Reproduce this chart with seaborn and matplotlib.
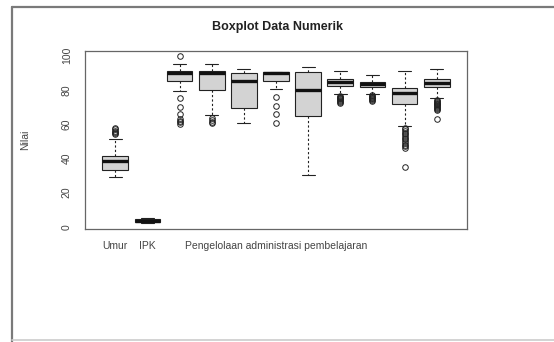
import pandas as pd
import seaborn as sns
import matplotlib.pyplot as plt
from matplotlib.lines import Line2D

# Ringkasan boxplot yang dibaca dari gambar (per variabel)
variabel = ['Umur', 'IPK', 'P1', 'P2', 'P3', 'P4', 'P5', 'P6', 'P7', 'P8', 'P9']
label_x = ['Umur', 'IPK', '', '', '', 'Pengelolaan administrasi pembelajaran',
           '', '', '', '', '']
whisker_bawah = [29.2, 2.2, 79.4, 65.3, 60.5, 80.3, 30.2, 77.6, 77.6, 58.9, 75.1]
q1 = [33.2, 3.0, 85.2, 80.0, 69.6, 85.2, 65.0, 82.5, 81.9, 71.8, 81.5]
median = [38.4, 3.6, 90.0, 90.0, 85.2, 90.0, 80.0, 84.4, 83.5, 78.0, 84.2]
q3 = [41.5, 4.6, 90.8, 90.8, 90.0, 90.6, 90.3, 86.4, 84.8, 80.8, 86.2]
whisker_atas = [51.3, 4.9, 95.0, 95.0, 92.2, 90.6, 93.6, 91.2, 88.7, 91.2, 92.0]
pencilan = [
    [54.0, 55.0, 55.5, 56.0, 57.0, 58.0],
    [],
    [99.5, 75.0, 70.0, 66.0, 63.0, 62.0, 61.0, 60.0],
    [63.5, 62.5, 61.5, 60.5],
    [],
    [75.7, 70.6, 65.9, 60.5],
    [],
    [76.5, 76.0, 75.5, 75.0, 74.5, 74.0, 73.5, 73.0, 72.5],
    [77.0, 76.5, 76.0, 75.5, 75.0, 74.5, 74.0, 73.5],
    [57.5, 57.0, 56.0, 55.0, 54.0, 53.0, 52.0, 51.0, 50.0, 49.0, 48.0,
     47.0, 46.0, 34.7],
    [74.0, 73.5, 73.0, 72.5, 72.0, 71.5, 71.0, 70.5, 70.0, 69.5, 69.0,
     68.5, 63.0],
]

# sampel yang menghasilkan kuartil/whisker di atas
rows = []
for i, v in enumerate(variabel):
    nilai = pencilan[i] + [whisker_bawah[i], whisker_atas[i]]
    nilai += [q1[i]] * 30 + [median[i]] * 30 + [q3[i]] * 30
    rows += [(v, x) for x in nilai]
data = pd.DataFrame(rows, columns=['Variabel', 'Nilai'])

sns.set_style('white')
plt.rcParams['font.family'] = ['Liberation Sans', 'DejaVu Sans']

fig = plt.figure(figsize=(5.54, 3.42), dpi=100)
ax = fig.add_axes([85 / 554, 1 - 229 / 342, 382 / 554, 178 / 342])

sns.boxplot(
    data=data, x='Variabel', y='Nilai', order=variabel, ax=ax,
    color='#d3d3d3', linecolor='#222222', linewidth=0.8, width=0.8, whis=1.5,
    saturation=1,
    medianprops={'linewidth': 2.4, 'color': '#111111'},
    whiskerprops={'linestyle': (0, (2, 2))},
    flierprops={'marker': 'o', 'markersize': 4, 'markerfacecolor': 'none',
                'markeredgecolor': '#222222', 'markeredgewidth': 0.7},
)

ax.set_xlim(-0.94, 10.94)
ax.set_ylim(-1.3, 102.7)
ax.set_yticks([0, 20, 40, 60, 80, 100])
ax.set_xticks(range(len(variabel)))
ax.set_xticklabels(label_x)
ax.set_xlabel('')
ax.set_ylabel('Nilai', fontsize=7.5, color='#444444')
ax.yaxis.set_label_coords(-0.144, 0.5)
ax.tick_params(axis='both', direction='out', length=4.5, width=0.8,
               color='#555555', labelsize=7.5, labelcolor='#444444', pad=4)
ax.tick_params(axis='y', pad=5)
for t in ax.get_yticklabels():
    t.set_rotation(90)
    t.set_va('center')
for s in ax.spines.values():
    s.set_visible(True)
    s.set_color('#666666')
    s.set_linewidth(0.9)

fig.text(277 / 554, 1 - 27 / 342, 'Boxplot Data Numerik', ha='center',
         va='center', fontsize=9, fontweight='bold', color='#222222')

# bingkai luar gambar
fig.add_artist(Line2D([12 / 554, 12 / 554], [0, 1 - 7 / 342],
                      transform=fig.transFigure, color='#7a7a7a', lw=1.6))
fig.add_artist(Line2D([12 / 554, 1], [1 - 7 / 342, 1 - 7 / 342],
                      transform=fig.transFigure, color='#7a7a7a', lw=1.6))
fig.add_artist(Line2D([12 / 554, 1], [2 / 342, 2 / 342],
                      transform=fig.transFigure, color='#cccccc', lw=1.2))

fig.savefig('out.png', dpi=100)
